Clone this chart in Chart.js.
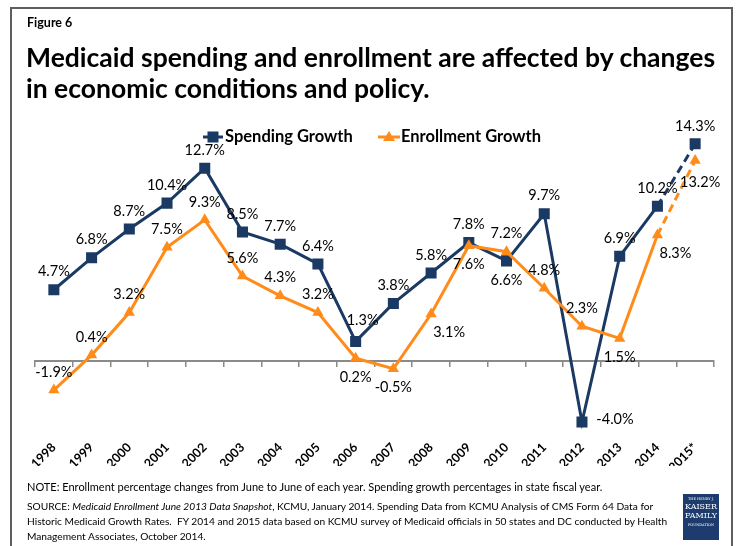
<!DOCTYPE html>
<html>
<head>
<meta charset="utf-8">
<script src="https://cdn.jsdelivr.net/npm/chart.js@4/dist/chart.umd.min.js"></script>
<style>
html, body { margin: 0; padding: 0; background: #fff; overflow: hidden; }
body { width: 740px; height: 546px; position: relative; font-family: Lato, sans-serif; color: #000; }
#frame { position: absolute; left: 10px; top: 7px; width: 719px; height: 600px; border: 2px solid #5e5e5e; }
#chart-wrap { position: absolute; left: 0; top: 0; width: 740px; height: 546px; }
.fig { position: absolute; left: 27px; top: 15px; font-weight: bold; font-size: 12.5px; }
h1 { position: absolute; left: 26px; top: 42px; margin: 0; font-size: 26.5px; line-height: 31px; font-weight: bold; white-space: nowrap; }
.note { position: absolute; left: 27px; top: 480px; font-size: 11px; white-space: nowrap; }
.source { position: absolute; left: 27px; top: 499px; font-size: 10.2px; line-height: 15px; white-space: nowrap; }
.logo { position: absolute; left: 683px; top: 494px; width: 36px; height: 46px; background: #1d3b6c; color: #fff;
        font-family: "DejaVu Serif", "Liberation Serif", serif; text-align: center; line-height: 1; }
.logo .s { font-size: 3.5px; padding-top: 4px; }
.logo .b { font-size: 8px; margin-top: 1px; }
</style>
</head>
<body>
<div id="frame"></div>
<div id="chart-wrap"><canvas id="growth-chart" width="740" height="546"></canvas></div>
<div class="fig">Figure 6</div>
<h1>Medicaid spending and enrollment are affected by changes<br>in economic conditions and policy.</h1>
<div class="note">NOTE: Enrollment percentage changes from June to June of each year. Spending growth percentages in state fiscal year.</div>
<div class="source">SOURCE: <i>Medicaid Enrollment June 2013 Data Snapshot</i>, KCMU, January 2014. Spending Data from KCMU Analysis of CMS Form 64 Data for<br>Historic Medicaid Growth Rates.&nbsp; FY 2014 and 2015 data based on KCMU survey of Medicaid officials in 50 states and DC conducted by Health<br>Management Associates, October 2014.</div>
<div class="logo"><div class="s">THE HENRY J.</div><div class="b">KAISER</div><div class="b">FAMILY</div><div class="s">FOUNDATION</div></div>
<script>
const years = ['1998', '1999', '2000', '2001', '2002', '2003', '2004', '2005', '2006',
               '2007', '2008', '2009', '2010', '2011', '2012', '2013', '2014', '2015*'];
const spendingGrowth = [4.7, 6.8, 8.7, 10.4, 12.7, 8.5, 7.7, 6.4, 1.3,
                        3.8, 5.8, 7.8, 6.6, 9.7, -4.0, 6.9, 10.2, 14.3];
const enrollmentGrowth = [-1.9, 0.4, 3.2, 7.5, 9.3, 5.6, 4.3, 3.2, 0.2,
                          -0.5, 3.1, 7.6, 7.2, 4.8, 2.3, 1.5, 8.3, 13.2];

// where each value label sits relative to its marker
const spendingLabelPos = ['up', 'up', 'up', 'up', 'up', 'up', 'up', 'up', 'upRight',
                          'up', 'up', 'up', 'down', 'up', 'right', 'up', 'up', 'up'];
const enrollmentLabelPos = ['up', 'up', 'up', 'up', 'up', 'up', 'up', 'up', 'down',
                            'down', 'downRight', 'down', 'up', 'up', 'up', 'down', 'downRight', 'downFar'];

const NAVY = '#1b3a63';
const ORANGE = '#ff8c1a';
const projected = 16; // segment 2014 -> 2015 is a projection, drawn dashed

const labelOffsets = {
    up: [0, -18], upRight: [7, -21], down: [0, 19], right: [33, -3],
    downRight: [18, 18], downFar: [5, 22]
};

const valueLabels = {
    id: 'valueLabels',
    afterDatasetsDraw(chart) {
        const c = chart.ctx;
        c.save();
        c.font = '14.5px Lato';
        c.fillStyle = '#000';
        c.textAlign = 'center';
        c.textBaseline = 'middle';
        chart.data.datasets.forEach((ds, i) => {
            const pos = ds.label === 'Spending Growth' ? spendingLabelPos : enrollmentLabelPos;
            chart.getDatasetMeta(i).data.forEach((pt, j) => {
                const off = labelOffsets[pos[j]];
                c.fillText(ds.data[j].toFixed(1) + '%', pt.x + off[0], pt.y + off[1]);
            });
        });
        c.restore();
    }
};

// legend drawn inside the plot, line + marker + bold text
const inlineLegend = {
    id: 'inlineLegend',
    afterDraw(chart) {
        const c = chart.ctx;
        c.save();
        c.lineWidth = 3;
        c.font = 'bold 16.5px Lato';
        c.textBaseline = 'middle';
        c.fillStyle = '#000';

        c.strokeStyle = NAVY;
        c.beginPath(); c.moveTo(203, 137); c.lineTo(223, 137); c.stroke();
        c.fillStyle = NAVY;
        c.fillRect(207.5, 131.5, 11, 11);
        c.fillStyle = '#000';
        c.fillText('Spending Growth', 225, 137);

        c.strokeStyle = ORANGE;
        c.beginPath(); c.moveTo(378, 137); c.lineTo(400, 137); c.stroke();
        c.fillStyle = ORANGE;
        c.beginPath(); c.moveTo(389, 131); c.lineTo(395, 141); c.lineTo(383, 141); c.closePath(); c.fill();
        c.fillStyle = '#000';
        c.fillText('Enrollment Growth', 401, 137);
        c.restore();
    }
};

const dashLast = ctx => ctx.p0DataIndex === projected ? [8, 5] : undefined;

new Chart(document.getElementById('growth-chart'), {
    type: 'line',
    data: {
        labels: years,
        datasets: [{
            label: 'Spending Growth',
            data: spendingGrowth,
            borderColor: NAVY,
            backgroundColor: NAVY,
            borderWidth: 3,
            pointStyle: 'rect',
            pointRadius: 7.8,
            pointBorderWidth: 0,
            segment: { borderDash: dashLast },
            order: 2
        }, {
            label: 'Enrollment Growth',
            data: enrollmentGrowth,
            borderColor: ORANGE,
            backgroundColor: ORANGE,
            borderWidth: 3,
            pointStyle: 'triangle',
            pointRadius: 6.5,
            pointBorderWidth: 0,
            segment: { borderDash: dashLast },
            order: 1
        }]
    },
    options: {
        responsive: false,
        animation: false,
        layout: { padding: { left: 35, right: 26, top: 118, bottom: 80 } },
        plugins: { legend: { display: false }, tooltip: { enabled: false } },
        scales: {
            y: { display: false, min: -4.66, max: 16 },
            x: {
                position: { y: 0 },
                offset: true,
                grid: { offset: true, drawOnChartArea: false, drawTicks: true, tickLength: 5, color: '#8a8a8a', lineWidth: 1.5 },
                border: { color: '#8a8a8a', width: 2 },
                ticks: { display: false }
            },
            x2: {
                type: 'category',
                labels: years,
                position: 'bottom',
                offset: true,
                grid: { display: false },
                border: { display: false },
                ticks: {
                    color: '#000',
                    font: { family: 'Lato', weight: 'bold', size: 12.5 },
                    maxRotation: 45, minRotation: 45, padding: 0, autoSkip: false
                },
                afterFit(scale) { scale.height = 34; }
            }
        }
    },
    plugins: [valueLabels, inlineLegend]
});
</script>
</body>
</html>
